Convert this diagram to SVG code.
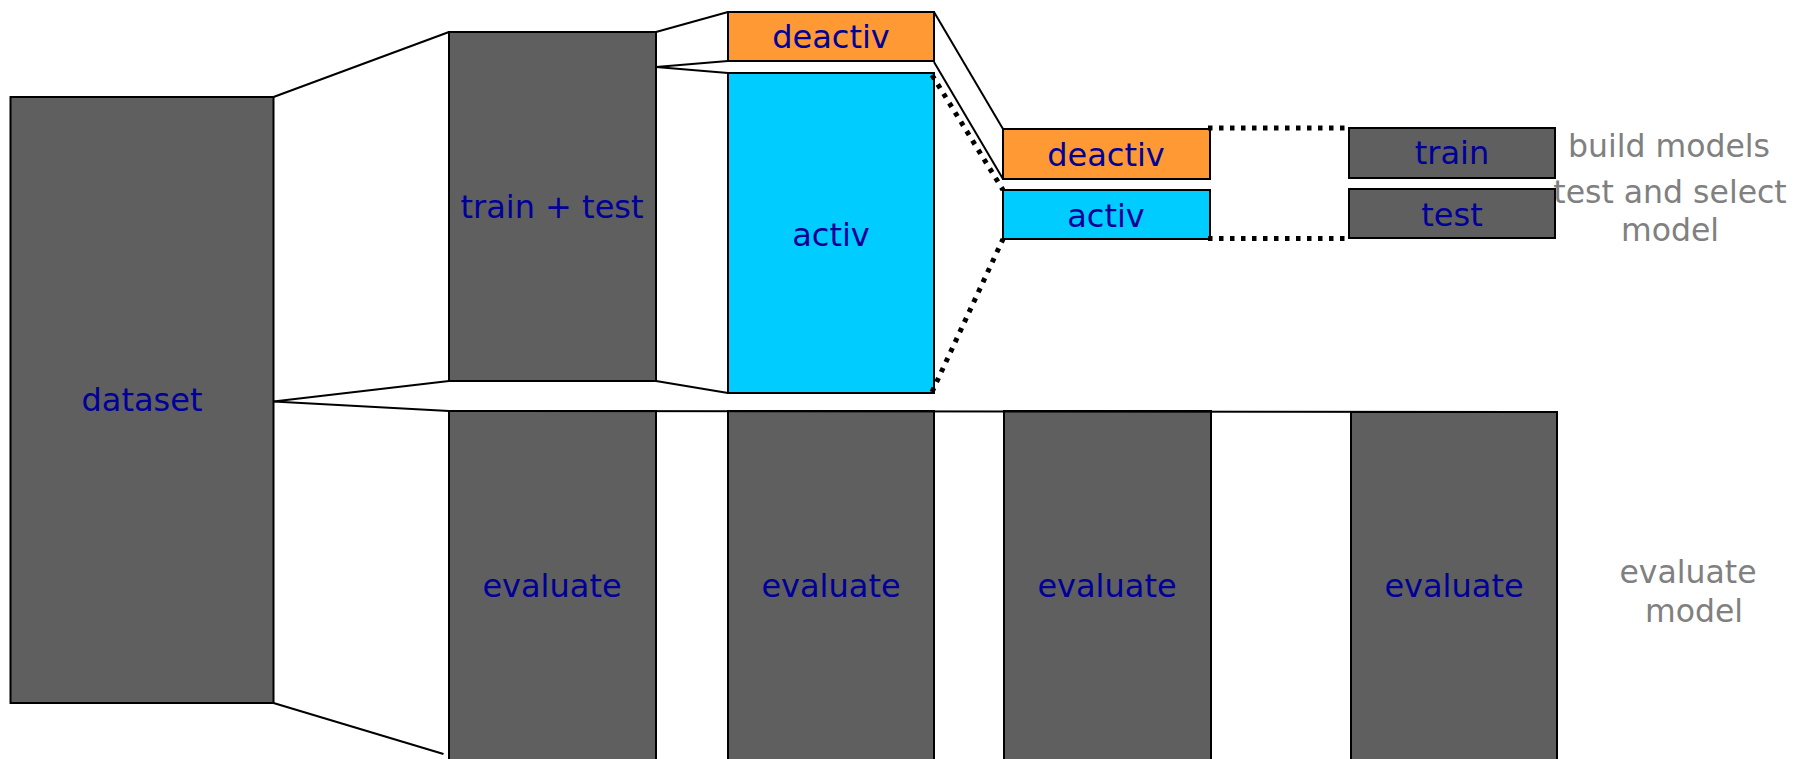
<svg xmlns="http://www.w3.org/2000/svg" width="1817" height="759" viewBox="0 0 1817 759">
  <style>
    .box { stroke: #000; stroke-width: 2; }
    .grey { fill: #5f5f5f; }
    .orange { fill: #ff9933; }
    .cyan { fill: #00ccff; }
    .lbl { font-family: "DejaVu Sans", Verdana, sans-serif; font-size: 32px; fill: #000099; text-anchor: middle; }
    .note { font-family: "DejaVu Sans", Verdana, sans-serif; font-size: 31.5px; fill: #808080; text-anchor: middle; }
    .solid { fill: none; stroke: #000; stroke-width: 2; }
    .dots { fill: none; stroke: #000; stroke-width: 5; stroke-dasharray: 4.5 6.5; }
  </style>
  <rect width="1817" height="759" fill="#fff"/>

  <g id="dataset">
    <rect class="box grey" x="10.5" y="97" width="263" height="606"/>
    <text class="lbl" x="142" y="411">dataset</text>
  </g>

  <g id="train-test">
    <rect class="box grey" x="449" y="32" width="207" height="349"/>
    <text class="lbl" x="552" y="218">train + test</text>
  </g>

  <g id="deactiv-1">
    <rect class="box orange" x="728" y="12" width="206" height="49"/>
    <text class="lbl" x="831" y="48">deactiv</text>
  </g>

  <g id="activ-1">
    <rect class="box cyan" x="728" y="73" width="206" height="320"/>
    <text class="lbl" x="831" y="246">activ</text>
  </g>

  <g id="deactiv-2">
    <rect class="box orange" x="1003" y="129" width="207" height="50"/>
    <text class="lbl" x="1106" y="166">deactiv</text>
  </g>

  <g id="activ-2">
    <rect class="box cyan" x="1003" y="190" width="207" height="49"/>
    <text class="lbl" x="1106" y="227">activ</text>
  </g>

  <g id="train">
    <rect class="box grey" x="1349" y="128" width="206" height="50"/>
    <text class="lbl" x="1452" y="164">train</text>
  </g>

  <g id="test">
    <rect class="box grey" x="1349" y="189" width="206" height="49"/>
    <text class="lbl" x="1452" y="226">test</text>
  </g>

  <g id="evaluate-1">
    <rect class="box grey" x="449" y="411" width="207" height="360"/>
    <text class="lbl" x="552" y="597">evaluate</text>
  </g>

  <g id="evaluate-2">
    <rect class="box grey" x="728" y="411" width="206" height="360"/>
    <text class="lbl" x="831" y="597">evaluate</text>
  </g>

  <g id="evaluate-3">
    <rect class="box grey" x="1004" y="411" width="207" height="360"/>
    <text class="lbl" x="1107" y="597">evaluate</text>
  </g>

  <g id="evaluate-4">
    <rect class="box grey" x="1351" y="412" width="206" height="360"/>
    <text class="lbl" x="1454" y="597">evaluate</text>
  </g>

  <g id="notes">
    <text class="note" x="1669" y="157">build models</text>
    <text class="note" x="1670" y="203">test and select</text>
    <text class="note" x="1670" y="241">model</text>
    <text class="note" x="1688" y="583">evaluate</text>
    <text class="note" x="1694" y="622">model</text>
  </g>

  <g id="connectors">
    <!-- dataset split -->
    <line class="solid" x1="273.5" y1="97" x2="449" y2="32"/>
    <line class="solid" x1="273.5" y1="401.5" x2="449" y2="381"/>
    <line class="solid" x1="273.5" y1="401.5" x2="449" y2="411"/>
    <line class="solid" x1="273.5" y1="703" x2="443.5" y2="754"/>
    <line class="solid" x1="449" y1="411" x2="1557" y2="412"/>
    <!-- train + test split -->
    <line class="solid" x1="656" y1="32" x2="728" y2="12"/>
    <line class="solid" x1="656" y1="67" x2="728" y2="61"/>
    <line class="solid" x1="656" y1="67" x2="728" y2="73"/>
    <line class="solid" x1="656" y1="381" x2="728" y2="393"/>
    <!-- deactiv projection -->
    <line class="solid" x1="934" y1="12" x2="1003" y2="129"/>
    <line class="solid" x1="934" y1="62" x2="1003" y2="179"/>
    <!-- activ projection -->
    <line class="dots" x1="932" y1="75" x2="1003" y2="190"/>
    <line class="dots" x1="932" y1="392" x2="1003" y2="239"/>
    <!-- to train / test -->
    <line class="dots" x1="1208" y1="128" x2="1349" y2="128"/>
    <line class="dots" x1="1208" y1="238.5" x2="1349" y2="238.5"/>
  </g>
</svg>
